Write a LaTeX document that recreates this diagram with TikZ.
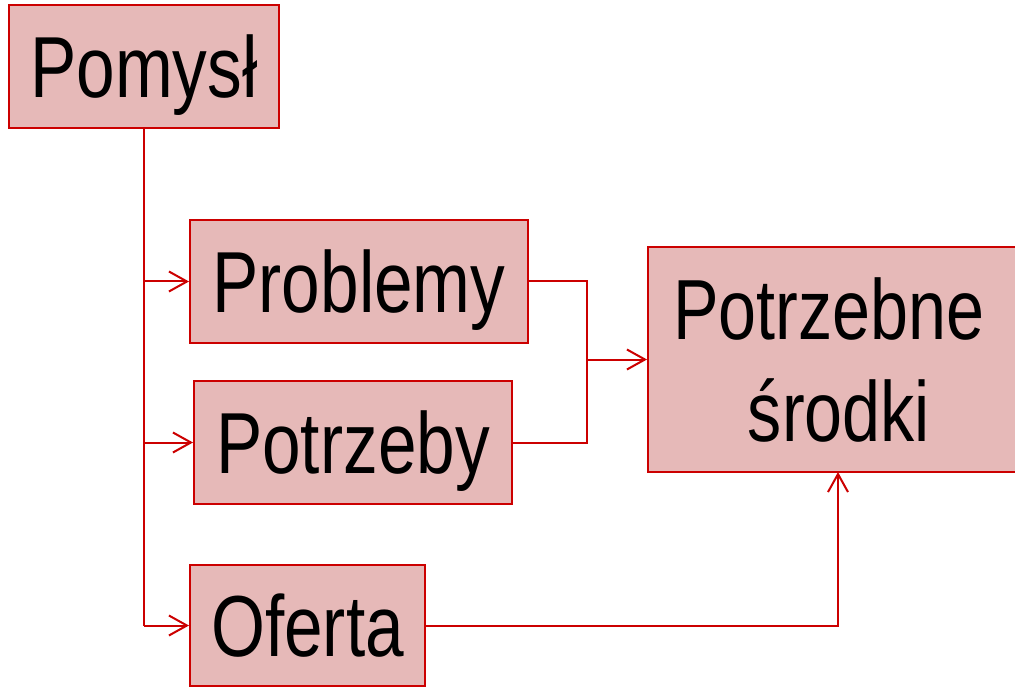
\documentclass[tikz,border=0pt]{standalone}
\usepackage{fontspec}
\setmainfont[FakeStretch=0.8]{Liberation Sans}
\usetikzlibrary{arrows.meta}
\definecolor{boxfill}{HTML}{E6B9B8}
\definecolor{boxline}{HTML}{CC0000}
\tikzset{
  box/.style={draw=boxline, fill=boxfill, line width=1.5pt, inner sep=0pt,
    font=\fontsize{65}{76.5}\selectfont, text height=46.5pt, text depth=0pt},
  conn/.style={draw=boxline, line width=1.5pt},
  arr/.style={conn, -{Straight Barb[length=13.5pt,width=15pt]}}
}
\begin{document}
\begin{tikzpicture}[x=0.75pt,y=-0.75pt]
\useasboundingbox (0,0) rectangle (1015,688);
\node[box, minimum width=202.5pt, minimum height=92.25pt] (pomysl) at (144,66.5) {Pomysł};
\node[box, minimum width=253.5pt, minimum height=92.25pt] (problemy) at (359,281.5) {Problemy};
\node[box, minimum width=238.5pt, minimum height=92.25pt] (potrzeby) at (353,442.5) {Potrzeby};
\node[box, minimum width=176.25pt, minimum height=90.75pt] (oferta) at (307.5,625.5) {Oferta};
\node[box, minimum width=276.75pt, minimum height=168.75pt, text height=, text depth=] (srodki) at (832.5,359.5) {};
\node[align=center, inner sep=0pt, font=\fontsize{64}{76.5}\selectfont] (srodkitext) at (829,360) {Potrzebne\\\hspace*{15pt}środki};
\coordinate (j) at (587,359.5);
\coordinate (k) at (838,472);
\draw[conn] (pomysl.south) -- (pomysl.south |- oferta.west);
\draw[arr] (pomysl.south |- problemy.west) -- (problemy.west);
\draw[arr] (pomysl.south |- potrzeby.west) -- (potrzeby.west);
\draw[arr] (pomysl.south |- oferta.west) -- (oferta.west);
\draw[conn] (problemy.east) -| (j);
\draw[conn] (potrzeby.east) -| (j);
\draw[arr] (j) -- (j -| srodki.west);
\draw[arr] (oferta.east) -| (k);
\end{tikzpicture}
\end{document}
